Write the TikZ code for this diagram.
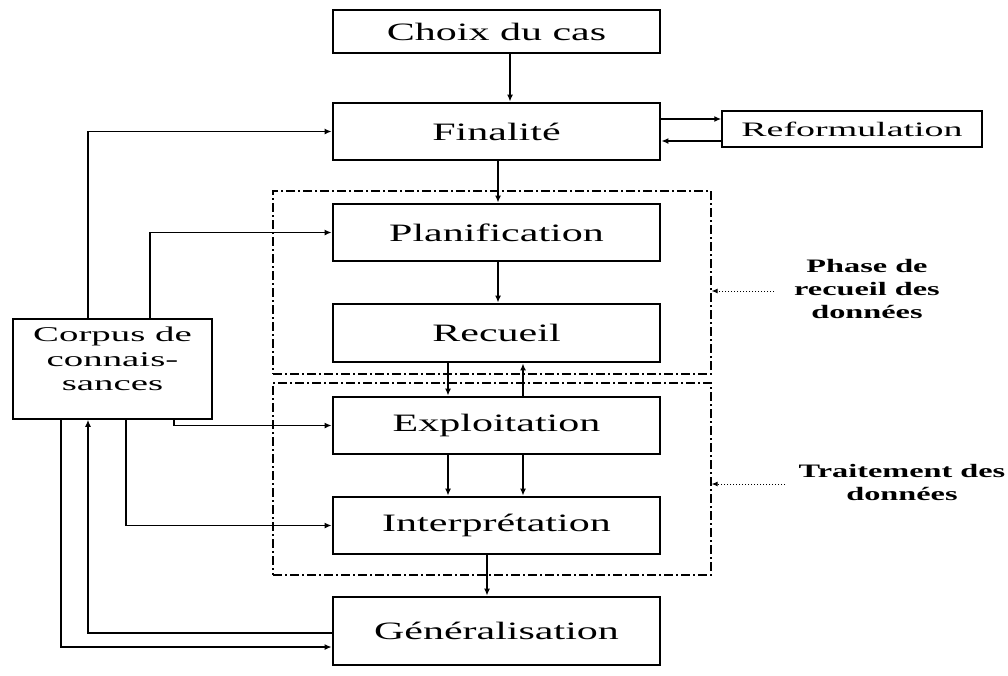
\documentclass[tikz,border=0pt]{standalone}
\usepackage{fontspec}
\usetikzlibrary{arrows.meta}
\newfontfamily\mainf[FakeStretch=1.68]{Liberation Serif}
\newfontfamily\labf[FakeStretch=1.7]{Liberation Serif}
\newfontfamily\boxf[FakeStretch=1.85]{Liberation Serif}
\tikzset{
  mainbox/.style={draw, line width=2.8pt, minimum width=327pt, inner sep=0pt,
    font=\mainf\fontsize{25}{30}\selectfont},
  thinbox/.style={draw, line width=1.5pt, inner sep=0pt, align=center},
  phasebox/.style={draw, line width=1.2pt, dash pattern=on 9pt off 3pt on 2pt off 3pt,
    minimum width=438pt, inner sep=0pt},
  sidelab/.style={align=center, inner sep=0pt,
    font=\labf\bfseries\fontsize{19}{23}\selectfont},
  arr/.style={line width=1.4pt, -{Latex[length=7pt,width=6pt]}},
  dotarr/.style={line width=1pt, dotted, -{Latex[length=6pt,width=5pt]}}
}
\begin{document}
\begin{tikzpicture}[x=1pt,y=-1pt]
\useasboundingbox (0,0) rectangle (1008,675);
% main boxes
\node[mainbox, minimum height=43pt] (choix) at (496.5,31.5) {Choix du cas};
\node[mainbox, minimum height=57pt] (final) at (496.5,131.5) {Finalit\'e};
\node[mainbox, minimum height=57pt] (plan) at (496.5,232.5) {Planification};
\node[mainbox, minimum height=58pt] (recueil) at (496.5,333) {Recueil};
\node[mainbox, minimum height=57pt] (exploit) at (496.5,425.5) {Exploitation};
\node[mainbox, minimum height=57pt] (interp) at (496.5,525.5) {Interpr\'etation};
\node[mainbox, minimum height=68pt] (gen) at (496.5,631) {G\'en\'eralisation};
% side boxes
\node[thinbox, minimum width=260pt, minimum height=36pt,
  font=\boxf\fontsize{20.5}{24}\selectfont] (reform) at (852,129) {Reformulation};
\node[thinbox, minimum width=199pt, minimum height=100pt, text depth=20pt,
  font=\boxf\fontsize{21}{24.5}\selectfont] (corpus) at (112.5,369)
  {Corpus de\\connais-\\sances};
% phase boxes
\node[phasebox, minimum height=183pt] (ph1) at (492,282.5) {};
\node[phasebox, minimum height=192pt] (ph2) at (492,479) {};
% side labels
\node[sidelab] (lab1) at (867,289) {Phase de\\recueil des\\donn\'ees};
\node[sidelab] (lab2) at (902,482.5) {Traitement des\\donn\'ees};
% vertical connectors
\draw[arr] (510,0 |- choix.south) -- (510,0 |- final.north);
\draw[arr] (498,0 |- final.south) -- (498,0 |- plan.north);
\draw[arr] (498,0 |- plan.south) -- (498,0 |- recueil.north);
\draw[arr] (448,0 |- recueil.south) -- (448,0 |- exploit.north);
\draw[arr] (523,0 |- exploit.north) -- (523,0 |- recueil.south);
\draw[arr] (448,0 |- exploit.south) -- (448,0 |- interp.north);
\draw[arr] (523,0 |- exploit.south) -- (523,0 |- interp.north);
\draw[arr] (487,0 |- interp.south) -- (487,0 |- gen.north);
% reformulation
\draw[arr] (final.east |- 0,119) -- (reform.west |- 0,119);
\draw[arr] (reform.west |- 0,141) -- (final.east |- 0,141);
% corpus connectors
\draw[arr] (88,0 |- corpus.north) |- (final.west);
\draw[arr] (150,0 |- corpus.north) |- (plan.west);
\draw[arr] (174,0 |- corpus.south) |- (exploit.west);
\draw[arr] (126,0 |- corpus.south) |- (interp.west);
\draw[arr] (61,0 |- corpus.south) |- (gen.west |- 0,647);
\draw[arr] (gen.west |- 0,633) -| (88,0 |- corpus.south);
% dotted label arrows
\draw[dotarr] ([xshift=-20pt]lab1.west |- 0,291) -- (ph1.east |- 0,291);
\draw[dotarr] (785,484) -- (ph2.east |- 0,484);
\end{tikzpicture}
\end{document}
